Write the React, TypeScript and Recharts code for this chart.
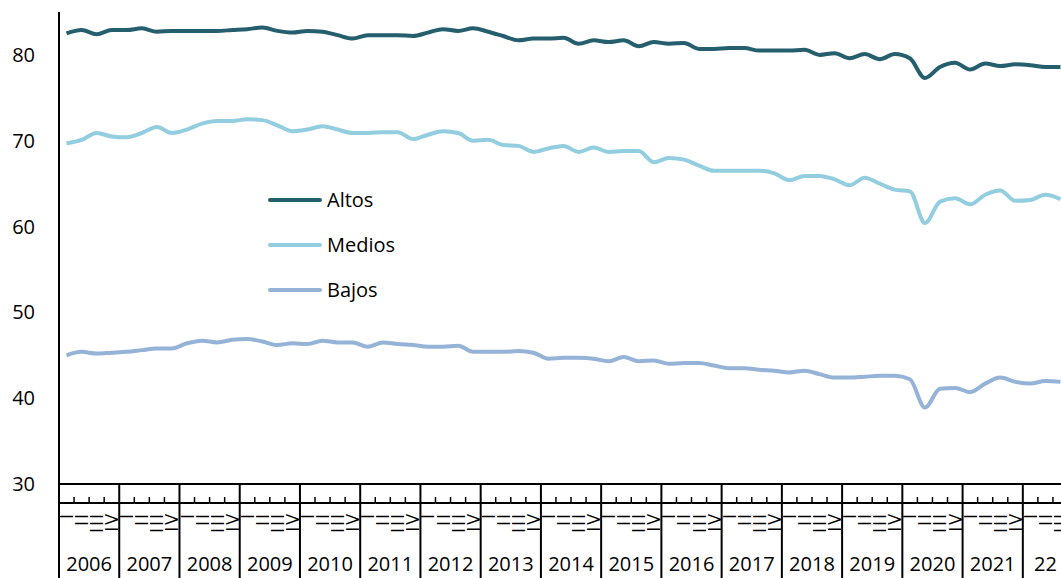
import React from "react";
import { Legend, Line, LineChart, XAxis, YAxis } from "recharts";

const years = [2006, 2007, 2008, 2009, 2010, 2011, 2012, 2013, 2014, 2015, 2016, 2017, 2018, 2019, 2020, 2021, 2022];
const yearLabels = ["2006", "2007", "2008", "2009", "2010", "2011", "2012", "2013", "2014", "2015", "2016", "2017", "2018", "2019", "2020", "2021", "22"];
const quarters = ["I", "II", "III", "IV"];
const seriesNames = ["Altos", "Medios", "Bajos"];

const altos = [
  82.5, 82.9, 82.4, 82.9,
  82.9, 83.1, 82.7, 82.8,
  82.8, 82.8, 82.8, 82.9,
  83.0, 83.2, 82.8, 82.6,
  82.8, 82.7, 82.3, 81.9,
  82.3, 82.3, 82.3, 82.2,
  82.6, 83.0, 82.8, 83.1,
  82.7, 82.2, 81.7, 81.9,
  81.9, 82.0, 81.3, 81.7,
  81.5, 81.7, 81.0, 81.5,
  81.3, 81.4, 80.7, 80.7,
  80.8, 80.8, 80.5, 80.5,
  80.5, 80.6, 80.0, 80.2,
  79.6, 80.1, 79.5, 80.1,
  79.6, 77.3, 78.6, 79.1,
  78.3, 79.0, 78.7, 78.9,
  78.8, 78.6, 78.6,
];

const medios = [
  69.7, 70.1, 70.9, 70.5,
  70.4, 70.9, 71.6, 70.9,
  71.3, 72.0, 72.3, 72.3,
  72.5, 72.4, 71.8, 71.1,
  71.3, 71.7, 71.3, 70.9,
  70.9, 71.0, 71.0, 70.2,
  70.7, 71.1, 70.9, 70.0,
  70.1, 69.5, 69.4, 68.7,
  69.1, 69.4, 68.7, 69.2,
  68.7, 68.8, 68.8, 67.5,
  68.0, 67.8, 67.1, 66.5,
  66.5, 66.5, 66.5, 66.2,
  65.4, 65.9, 65.9, 65.5,
  64.8, 65.7, 65.0, 64.3,
  64.1, 60.4, 62.9, 63.3,
  62.6, 63.7, 64.2, 63.0,
  63.1, 63.7, 63.2,
];

const bajos = [
  45.0, 45.4, 45.2, 45.3,
  45.4, 45.6, 45.8, 45.8,
  46.4, 46.7, 46.5, 46.8,
  46.9, 46.6, 46.2, 46.4,
  46.3, 46.7, 46.5, 46.5,
  46.0, 46.5, 46.3, 46.2,
  46.0, 46.0, 46.1, 45.4,
  45.4, 45.4, 45.5, 45.3,
  44.6, 44.7, 44.7, 44.6,
  44.3, 44.8, 44.3, 44.4,
  44.0, 44.1, 44.1, 43.8,
  43.5, 43.5, 43.3, 43.2,
  43.0, 43.2, 42.8, 42.4,
  42.4, 42.5, 42.6, 42.6,
  42.2, 38.9, 41.1, 41.2,
  40.7, 41.7, 42.4, 41.9,
  41.7, 42.0, 41.9,
];

const yTicks = [30, 40, 50, 60, 70, 80];

const data = altos.map((_, i) => {
  const yi = Math.floor(i / 4);
  return {
    key: `${years[yi]}-${quarters[i % 4]}`,
    yearIndex: yi,
    q: i % 4,
    altos: altos[i],
    medios: medios[i],
    bajos: bajos[i],
  };
});

const FONT = "'Open Sans', sans-serif";
const CHART_W = 1075;
const CHART_H = 578;
const Y_AXIS_W = 59;
const RIGHT = 7;
const BAND = (CHART_W - Y_AXIS_W - RIGHT) / data.length;
const AXIS_Y = 484;
const Q_LABEL_Y = 512;

// quarter labels drawn sideways, years underneath, separators between years
function QuarterTick(props: any) {
  const { x, index } = props;
  const row = data[index];
  if (!row) return null;
  const left = x - BAND / 2;
  const nInYear = data.filter((d) => d.yearIndex === row.yearIndex).length;
  return (
    <g>
      <line x1={left} x2={left + BAND} y1={503} y2={503} stroke="#000" strokeWidth={2} />
      {row.q !== 0 && (
        <line x1={left} x2={left} y1={497} y2={503} stroke="#000" strokeWidth={1.5} />
      )}
      <text
        x={x + 6.5}
        y={Q_LABEL_Y}
        transform={`rotate(-90 ${x + 6.5} ${Q_LABEL_Y})`}
        textAnchor="end"
        fontFamily={FONT}
        fontSize={18}
        letterSpacing={2}
        fill="#000"
      >
        {quarters[row.q]}
      </text>
      {row.q === 0 && (
        <>
          <line x1={left} x2={left} y1={AXIS_Y} y2={CHART_H} stroke="#000" strokeWidth={2} />
          <text
            x={left + (nInYear * BAND) / 2}
            y={571}
            textAnchor="middle"
            fontFamily={FONT}
            fontSize={20}
            fill="#000"
          >
            {yearLabels[row.yearIndex]}
          </text>
        </>
      )}
    </g>
  );
}

function LegendBox({ payload }: any) {
  const items = [...(payload || [])].sort(
    (a: any, b: any) => seriesNames.indexOf(a.value) - seriesNames.indexOf(b.value)
  );
  return (
    <div style={{ fontFamily: FONT }}>
      {items.map((entry: any) => (
        <div key={entry.value} style={{ display: "flex", alignItems: "center", height: 45 }}>
          <span
            style={{
              display: "inline-block",
              width: 54,
              height: 4,
              borderRadius: 2,
              background: entry.color,
            }}
          />
          <span style={{ marginLeft: 5, fontSize: 20, color: "#000" }}>{entry.value}</span>
        </div>
      ))}
    </div>
  );
}

export default function App() {
  return (
    <div
      style={{
        position: "absolute",
        left: 0,
        top: 0,
        width: 1061,
        height: 578,
        overflow: "hidden",
        background: "#fff",
      }}
    >
      <LineChart
        width={CHART_W}
        height={CHART_H}
        data={data}
        margin={{ top: 12, right: RIGHT, bottom: 0, left: 0 }}
      >
        <XAxis
          dataKey="key"
          interval={0}
          height={CHART_H - AXIS_Y}
          padding={{ left: BAND / 2, right: BAND / 2 }}
          tickLine={false}
          tickSize={0}
          tickMargin={0}
          axisLine={{ stroke: "#000", strokeWidth: 2 }}
          tick={<QuarterTick />}
        />
        <YAxis
          width={Y_AXIS_W}
          domain={[30, 85]}
          ticks={yTicks}
          tickLine={false}
          tickSize={22}
          tickMargin={2}
          axisLine={{ stroke: "#000", strokeWidth: 2 }}
          tick={{ fontSize: 20, fill: "#000", fontFamily: FONT }}
        />
        <Legend
          layout="vertical"
          align="center"
          verticalAlign="middle"
          wrapperStyle={{ left: 268, top: 177, width: 140 }}
          content={<LegendBox />}
        />
        <Line
          dataKey="altos"
          name="Altos"
          type="monotone"
          stroke="#255E6C"
          strokeWidth={4}
          dot={false}
          isAnimationActive={false}
        />
        <Line
          dataKey="medios"
          name="Medios"
          type="monotone"
          stroke="#92CDE0"
          strokeWidth={4}
          dot={false}
          isAnimationActive={false}
        />
        <Line
          dataKey="bajos"
          name="Bajos"
          type="monotone"
          stroke="#95B3D7"
          strokeWidth={4}
          dot={false}
          isAnimationActive={false}
        />
      </LineChart>
    </div>
  );
}
